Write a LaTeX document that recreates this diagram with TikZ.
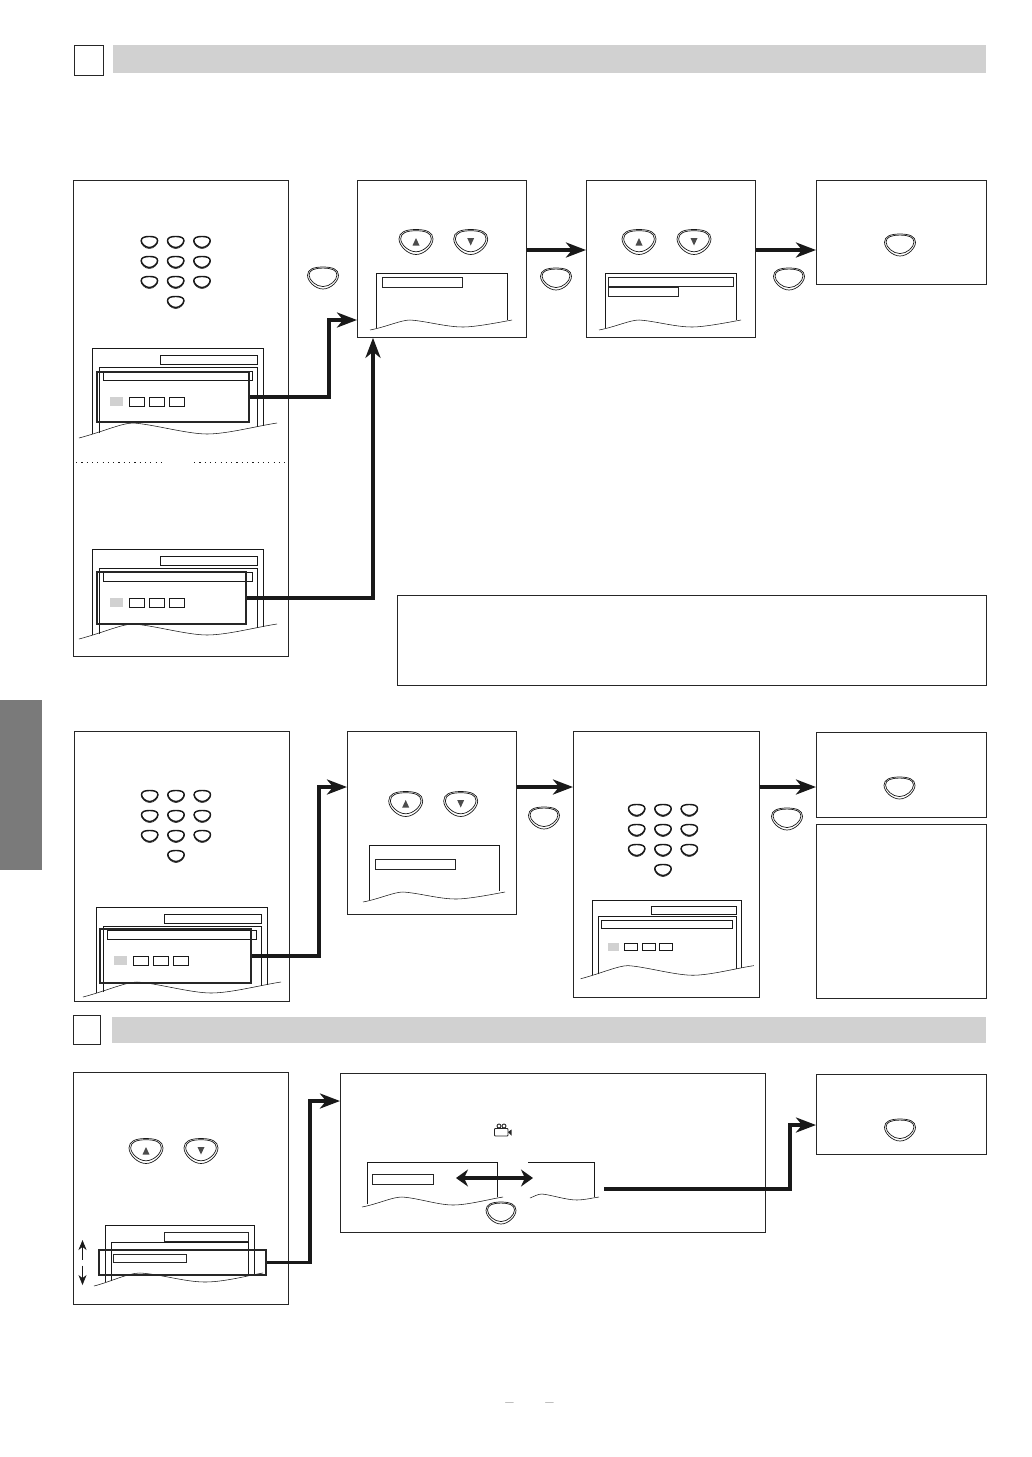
\documentclass[tikz,border=0pt]{standalone}
\usepackage{fontspec}
\usepackage{xcolor}
\usepackage{tikz}
\usetikzlibrary{positioning, arrows.meta, shapes.geometric}

\newcommand{\blobpath}{(-1,-0.25) .. controls (-1,-0.8) and (-0.6,-1) .. (0,-1) .. controls (0.6,-1) and (1,-0.8) .. (1,-0.25) .. controls (1,0.3) and (0.5,1) .. (0,1) .. controls (-0.5,1) and (-1,0.3) .. (-1,-0.25) -- cycle}

\begin{document}
\begin{tikzpicture}[
    x=1pt, y=-1pt,
    panel/.style={draw=black!85, line width=0.8pt, rectangle, anchor=north west, inner sep=0pt},
    hilite/.style={draw=black!85, line width=2pt, rectangle, anchor=north west, inner sep=0pt},
    bar/.style={draw=black!85, line width=0.6pt, rectangle, anchor=north west, inner sep=0pt},
    header/.style={fill=black!18, rectangle, anchor=north west, inner sep=0pt},
    flow/.style={draw=black!90, line width=3.6pt, -{Stealth[length=20pt, width=15pt, inset=6pt]}},
    thin line/.style={draw=black!90, line width=0.55pt},
    blob/.pic={
        \draw[thin line, line width=0.7pt] \blobpath;
        \draw[thin line, line width=0.7pt, yshift=0.06pt, yscale=0.84, xscale=0.9] \blobpath;
    },
    keycap/.pic={
        \draw[thin line, line width=0.5pt, yshift=-0.1pt] \blobpath;
        \draw[thin line, line width=1.4pt, yscale=0.92, xscale=0.96] \blobpath;
    },
    keypad/.pic={
        \foreach \row in {-30,-10,10} {
            \foreach \col in {-26.3,0,26.3} {
                \pic[xscale=8.5, yscale=6] at (\col,\row) {keycap};
            }
        }
        \pic[xscale=8.5, yscale=6] at (0,30) {keycap};
    },
    tvscreen/.pic={
        \draw[thin line] (0,86) -- (0,0) -- (171,0) -- (171,78);
        \draw[thin line] (68,7) rectangle (165,16);
        \draw[thin line] (7,85) -- (7,19) -- (165,19) -- (165,79);
        \draw[thin line] (11,23) rectangle (160,32);
        \fill[black!18] (18,49) rectangle (31,58);
        \draw[thin line] (37,49) rectangle (52,58);
        \draw[thin line] (57,49) rectangle (72,58);
        \draw[thin line] (77,49) rectangle (92,58);
        \draw[thin line] (-13,90) .. controls (10,84) and (30,75) .. (41,75)
            .. controls (60,76) and (95,86) .. (115,86)
            .. controls (135,86) and (165,78) .. (185,75);
    },
    listwave/.pic={
        \draw[thin line] (-6,57) .. controls (10,54) and (25,47) .. (34,47)
            .. controls (50,48) and (70,54) .. (87,54)
            .. controls (100,54) and (125,49) .. (136,47);
    },
    upkey/.pic={
        \pic[xscale=17, yscale=12.5] {blob};
        \fill[black!70] (-3.5,3.5) -- (3.5,3.5) -- (0,-4) -- cycle;
    },
    downkey/.pic={
        \pic[xscale=17, yscale=12.5] {blob};
        \fill[black!70] (-3.5,-4) -- (3.5,-4) -- (0,3.5) -- cycle;
    }
]
    \useasboundingbox (0,0) rectangle (1032,1457);

    % Headers and side tab
    \node[panel, minimum width=28.5pt, minimum height=30pt] (boxa) at (74,45) {};
    \node[header, minimum width=873pt, minimum height=28pt] (heada) at (113,45) {};
    \node[panel, minimum width=27pt, minimum height=29pt] (boxb) at (73,1015) {};
    \node[header, minimum width=874pt, minimum height=26pt] (headb) at (112,1017) {};
    \node[rectangle, fill=black!52, anchor=north west, inner sep=0pt, minimum width=42pt, minimum height=170pt] (sidetab) at (0,700) {};

    % First row panels
    \node[panel, minimum width=214.5pt, minimum height=476pt] (entry) at (73,180) {};
    \node[panel, minimum width=169pt, minimum height=157pt] (select) at (357,180) {};
    \node[panel, minimum width=169pt, minimum height=157pt] (choose) at (586,180) {};
    \node[panel, minimum width=169.5pt, minimum height=104pt] (finish) at (816,180) {};
    \node[panel, minimum width=588.5pt, minimum height=90pt] (note) at (397,595) {};

    \pic at (175.7,272) {keypad};
    \pic at (92,348) {tvscreen};
    \pic at (92,549) {tvscreen};
    \draw[thin line, line width=0.7pt, dash pattern=on 1.2pt off 4.1pt] (76,462) -- (165,462);
    \draw[thin line, line width=0.7pt, dash pattern=on 1.2pt off 4.1pt] (194,462) -- (285,462);
    \node[hilite, minimum width=152pt, minimum height=50pt] (hilitea) at (96,371) {};
    \node[hilite, minimum width=149pt, minimum height=52pt] (hiliteb) at (96,571) {};

    \pic[xscale=15.5, yscale=11] at (323,278) {blob};
    \pic at (416,242) {upkey};
    \pic at (470.7,242) {downkey};
    \draw[thin line] (376,328) -- (376,273) -- (507,273) -- (507,320);
    \node[bar, minimum width=80pt, minimum height=10pt] (lista) at (382,277) {};
    \pic at (376,273) {listwave};

    \pic[xscale=15.5, yscale=11] at (556,279) {blob};
    \pic at (639,242) {upkey};
    \pic at (694,242) {downkey};
    \draw[thin line] (605,328) -- (605,273) -- (736,273) -- (736,320);
    \node[bar, minimum width=125pt, minimum height=9pt] (listb) at (608,277) {};
    \node[bar, minimum width=70pt, minimum height=9pt] (listc) at (608,287) {};
    \pic at (605,273) {listwave};

    \pic[xscale=15.5, yscale=11] at (789,279) {blob};
    \pic[xscale=15.5, yscale=11] at (900,245) {blob};

    % First row connectors
    \draw[flow] (hilitea.east) -- ++(79,0) |- (select.west |- 0,320);
    \draw[flow] (hiliteb.east) -| (select.south -| 373,0);
    \draw[flow] (select.east |- 0,250) -- (choose.west |- 0,250);
    \draw[flow] (choose.east |- 0,250) -- (finish.west |- 0,250);

    % Second row panels
    \node[panel, minimum width=214.5pt, minimum height=270pt] (entryb) at (74,731) {};
    \node[panel, minimum width=169pt, minimum height=183pt] (selectb) at (347,731) {};
    \node[panel, minimum width=186pt, minimum height=266pt] (chooseb) at (573,731) {};
    \node[panel, minimum width=169.5pt, minimum height=85pt] (finishb) at (816,732) {};
    \node[panel, minimum width=169.5pt, minimum height=174pt] (noteb) at (816,824) {};

    \pic at (176,826) {keypad};
    \pic at (96,907) {tvscreen};
    \node[hilite, minimum width=151pt, minimum height=54pt] (hilitec) at (99,928) {};

    \pic at (405.7,804) {upkey};
    \pic at (460.7,804) {downkey};
    \draw[thin line] (369,900) -- (369,845) -- (499,845) -- (499,891);
    \node[bar, minimum width=80pt, minimum height=10pt] (listd) at (375,859) {};
    \pic at (369,845) {listwave};
    \pic[xscale=15.5, yscale=11] at (544,818) {blob};

    \pic at (663,840) {keypad};
    \pic[scale=0.875] at (592,900) {tvscreen};
    \pic[xscale=15.5, yscale=11] at (787,819) {blob};
    \pic[xscale=15.5, yscale=11] at (899.5,788) {blob};

    % Second row connectors
    \draw[flow] (hilitec.east) -- ++(67,0) |- (selectb.west |- 0,787);
    \draw[flow] (selectb.east |- 0,787) -- (chooseb.west |- 0,787);
    \draw[flow] (chooseb.east |- 0,787) -- (finishb.west |- 0,787);

    % Third row panels
    \node[panel, minimum width=215pt, minimum height=232pt] (entryc) at (73,1072) {};
    \node[panel, minimum width=424.5pt, minimum height=159pt] (modes) at (340,1073) {};
    \node[panel, minimum width=169.5pt, minimum height=80pt] (finishc) at (816,1074) {};

    \pic at (146,1151) {upkey};
    \pic at (201,1151) {downkey};
    \draw[thin line] (105,1282) -- (105,1225) -- (254,1225) -- (254,1276);
    \node[bar, minimum width=84pt, minimum height=9pt] (liste) at (164,1232) {};
    \draw[thin line] (111,1281) -- (111,1242) -- (248,1242) -- (248,1276);
    \node[bar, minimum width=73pt, minimum height=8pt] (listf) at (113,1254) {};
    \draw[thin line] (94,1286) .. controls (110,1282) and (128,1273) .. (140,1273)
        .. controls (160,1274) and (185,1282) .. (205,1282)
        .. controls (225,1282) and (250,1275) .. (263,1273);
    \node[hilite, minimum width=167pt, minimum height=25pt] (hilited) at (98,1249) {};

    % Scroll marks beside the screen
    \coordinate (scrollmid) at (82.5,1262.5);
    \draw[thin line, line width=0.6pt, -{Stealth[length=10pt, width=8pt]}] (scrollmid) ++(0,-3) -- (82.5,1240);
    \draw[thin line, line width=0.6pt, -{Stealth[length=10pt, width=8pt]}] (scrollmid) ++(0,3) -- (82.5,1285);

    % Camera mark
    \draw[black!85, line width=0.9pt, rounded corners=0.8pt] (494.5,1128.5) rectangle (508,1136);
    \draw[black!85, line width=0.9pt] (499,1126) circle (2pt);
    \draw[black!85, line width=0.9pt] (504,1126) circle (2pt);
    \fill[black!85] (508,1132) -- (511.5,1129.5) -- (511.5,1135.5) -- cycle;

    % Modes screens
    \draw[thin line] (367,1204) -- (367,1162) -- (497,1162) -- (497,1197);
    \node[bar, minimum width=61pt, minimum height=10.5pt] (listg) at (372,1173.5) {};
    \draw[thin line] (362,1207) .. controls (378,1204) and (392,1197) .. (402,1197)
        .. controls (418,1198) and (438,1205) .. (453,1205)
        .. controls (468,1205) and (490,1199) .. (503,1197);
    \draw[thin line] (528,1162) -- (594,1162) -- (594,1197);
    \draw[thin line] (530,1198) .. controls (535,1196) and (538,1194) .. (542,1194)
        .. controls (552,1195) and (566,1200) .. (577,1200)
        .. controls (584,1200) and (592,1198) .. (599,1197);
    \coordinate (leftend) at (456,1178);
    \coordinate (rightend) at (533,1178);
    \draw[draw=black!90, line width=4.3pt, {Stealth[length=12pt, width=17pt]}-{Stealth[length=12pt, width=17pt]}] (leftend) -- (rightend);
    \pic[xscale=15, yscale=11] at (501,1213) {blob};
    \pic[xscale=15.5, yscale=11] at (900,1130) {blob};

    % Third row connectors
    \coordinate (modesout) at (604,1189);
    \draw[flow] (hilited.east) -- ++(43,0) |- (modes.west |- 0,1101);
    \draw[flow] (modesout) -- ++(186,0) |- (finishc.west |- 0,1125);

    % Page number dashes
    \node[font=\fontsize{18}{18}\selectfont, text=black!85, inner sep=0pt] (dasha) at (509.5,1405) {--};
    \node[font=\fontsize{18}{18}\selectfont, text=black!85, inner sep=0pt] (dashb) at (549.5,1405) {--};
\end{tikzpicture}
\end{document}
